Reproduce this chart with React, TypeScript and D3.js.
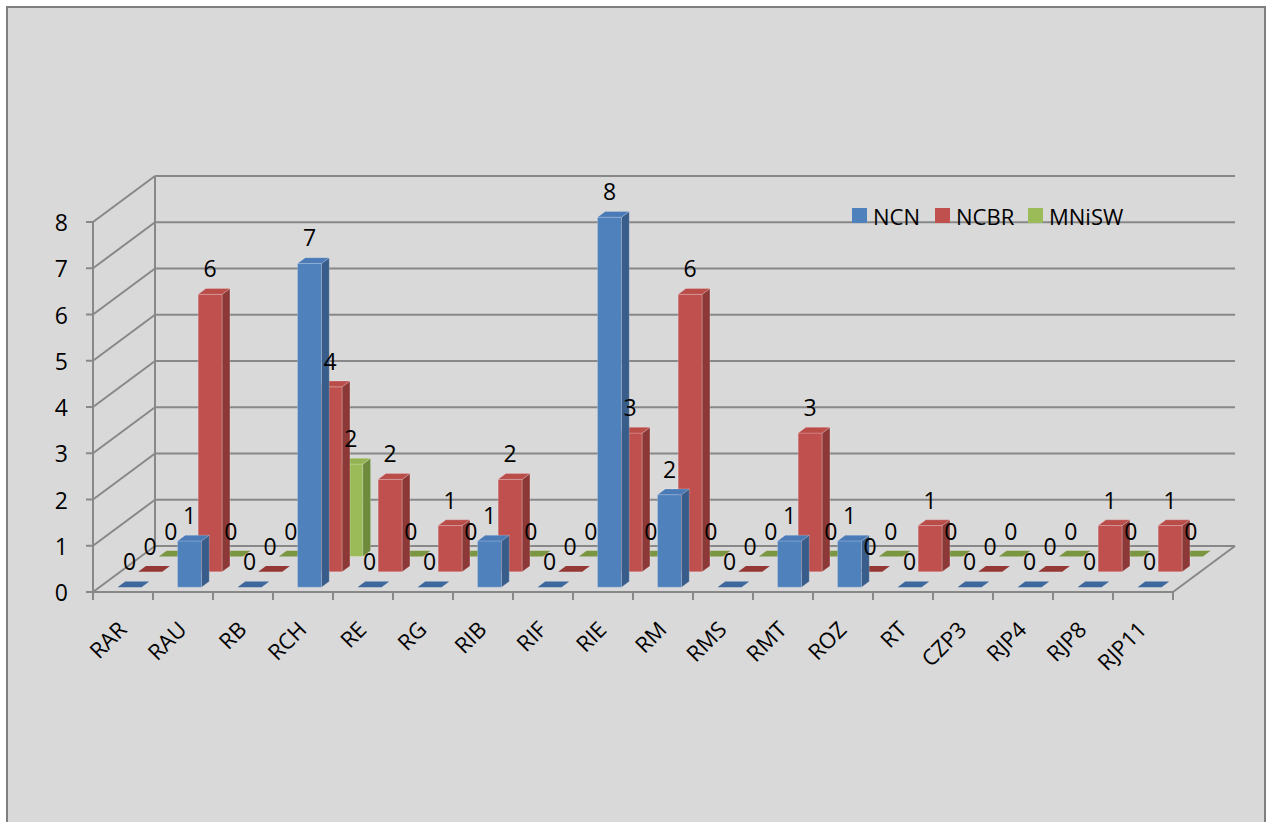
import React from "react";
import * as d3 from "d3";

// Project counts per unit and funding source
const categories = [
  "RAR", "RAU", "RB", "RCH", "RE", "RG", "RIB", "RIF", "RIE",
  "RM", "RMS", "RMT", "ROZ", "RT", "CZP3", "RJP4", "RJP8", "RJP11",
];
const ncn = [0, 1, 0, 7, 0, 0, 1, 0, 8, 2, 0, 1, 1, 0, 0, 0, 0, 0];
const ncbr = [0, 6, 0, 4, 2, 1, 2, 0, 3, 6, 0, 3, 0, 1, 0, 0, 1, 1];
const mnisw = [0, 0, 0, 2, 0, 0, 0, 0, 0, 0, 0, 0, 0, 0, 0, 0, 0, 0];
const seriesNames = ["NCN", "NCBR", "MNiSW"];
const yTicks = [0, 1, 2, 3, 4, 5, 6, 7, 8];

const palette = [
  { front: "#4F81BD", side: "#385D8A", top: "#4A7BB7", flat: "#3D689E" },
  { front: "#C0504D", side: "#8C3836", top: "#BA4C49", flat: "#953735" },
  { front: "#9BBB59", side: "#6E8A3C", top: "#93B352", flat: "#7A9640" },
];

const W = 1268;
const H = 822;
const FONT = "'Open Sans', 'Noto Sans', sans-serif";

// 3D frame: front plane and depth offset
const X0 = 93;
const X1 = 1173;
const DX = 62;
const DY = 46;
const rowDepth = 1 / 3;
const barDepth = 0.125;
const barFront = 0.105;

const x = d3.scaleBand<string>().domain(categories).range([X0, X1]).paddingInner(0).paddingOuter(0);
const y = d3.scaleLinear().domain([0, 8]).range([592, 222]);

const P = (px: number, v: number, d: number): [number, number] => [px + DX * d, y(v) - DY * d];
const pts = (arr: [number, number][]) => arr.map((p) => p.join(",")).join(" ");

export default function App() {
  const bw = x.bandwidth();
  const barW = bw * 0.4;
  const series = [ncn, ncbr, mnisw];

  const gridColor = "#888888";

  // bars drawn back row first so front rows overlap them
  const bars: React.ReactNode[] = [];
  const labels: React.ReactNode[] = [];
  for (let k = series.length - 1; k >= 0; k--) {
    const d0 = k * rowDepth + barFront;
    const d1 = d0 + barDepth;
    const c = palette[k];
    categories.forEach((cat, i) => {
      const v = series[k][i];
      const xl = (x(cat) as number) + (bw - barW) / 2;
      const xr = xl + barW;
      const key = `${k}-${i}`;
      if (v > 0) {
        bars.push(
          <g key={key} stroke="rgba(255,255,255,0.25)" strokeWidth={0.8} strokeLinejoin="round">
            <polygon points={pts([P(xl, 0, d0), P(xr, 0, d0), P(xr, v, d0), P(xl, v, d0)])} fill={c.front} />
            <polygon points={pts([P(xr, 0, d0), P(xr, 0, d1), P(xr, v, d1), P(xr, v, d0)])} fill={c.side} />
            <polygon points={pts([P(xl, v, d0), P(xr, v, d0), P(xr, v, d1), P(xl, v, d1)])} fill={c.top} />
          </g>
        );
      } else {
        bars.push(
          <polygon
            key={key}
            points={pts([P(xl, 0, d0), P(xr, 0, d0), P(xr, 0, d1), P(xl, 0, d1)])}
            fill={c.flat}
          />
        );
      }
      const [lx, ly] = P((xl + xr) / 2, v, d0);
      labels.push(
        <text key={`l-${key}`} x={lx} y={ly - 26} textAnchor="middle" dominantBaseline="central"
          fontFamily={FONT} fontSize={23} fill="#000">
          {v}
        </text>
      );
    });
  }

  const backRight = X1 + DX;

  return (
    <div style={{ position: "absolute", left: 0, top: 0 }}>
      <svg width={W} height={H} style={{ display: "block" }}>
        <rect x={0} y={0} width={W} height={H} fill="#fff" />
        <rect x={7} y={7} width={1258} height={840} fill="#d9d9d9" stroke="#7f7f7f" strokeWidth={2} />

        {/* back wall gridlines and side wall diagonals */}
        {yTicks.map((t) => {
          const [bx, by] = P(X0, t, 1);
          return (
            <g key={`g-${t}`} stroke={gridColor} strokeWidth={2} fill="none">
              <line x1={X0} y1={y(t)} x2={bx} y2={by} />
              <line x1={bx} y1={by} x2={backRight} y2={by} />
              <line x1={X0 - 7} y1={y(t)} x2={X0} y2={y(t)} />
            </g>
          );
        })}
        <line x1={X0 + DX} y1={y(8) - DY} x2={X0 + DX} y2={y(0) - DY} stroke={gridColor} strokeWidth={2} />
        <line x1={X0} y1={y(8)} x2={X0} y2={y(0)} stroke={gridColor} strokeWidth={2} />

        {/* floor */}
        <line x1={X0} y1={y(0)} x2={X1} y2={y(0)} stroke={gridColor} strokeWidth={2} />
        <line x1={X1} y1={y(0)} x2={backRight} y2={y(0) - DY} stroke={gridColor} strokeWidth={2} />
        {d3.range(categories.length + 1).map((i) => {
          const tx = X0 + i * bw;
          return <line key={`t-${i}`} x1={tx} y1={y(0)} x2={tx} y2={y(0) + 8} stroke={gridColor} strokeWidth={2} />;
        })}

        {bars}
        {labels}

        {/* value axis labels */}
        {yTicks.map((t) => (
          <text key={`y-${t}`} x={68} y={y(t)} textAnchor="end" dominantBaseline="central"
            fontFamily={FONT} fontSize={23} fill="#000">
            {t}
          </text>
        ))}

        {/* category labels */}
        {categories.map((cat) => {
          const cx = (x(cat) as number) + bw / 2 + 5;
          const cy = 631;
          return (
            <text key={`c-${cat}`} x={cx} y={cy} textAnchor="end" transform={`rotate(-45 ${cx} ${cy})`}
              fontFamily={FONT} fontSize={22} fill="#000">
              {cat}
            </text>
          );
        })}

        {/* legend */}
        {(() => {
          const pos = [852, 935, 1028];
          return seriesNames.map((name, i) => (
            <g key={`lg-${name}`}>
              <rect x={pos[i]} y={208} width={15} height={15} fill={palette[i].front} />
              <text x={pos[i] + 21} y={215.5} dominantBaseline="central" fontFamily={FONT} fontSize={22} fill="#000">
                {name}
              </text>
            </g>
          ));
        })()}
      </svg>
    </div>
  );
}
